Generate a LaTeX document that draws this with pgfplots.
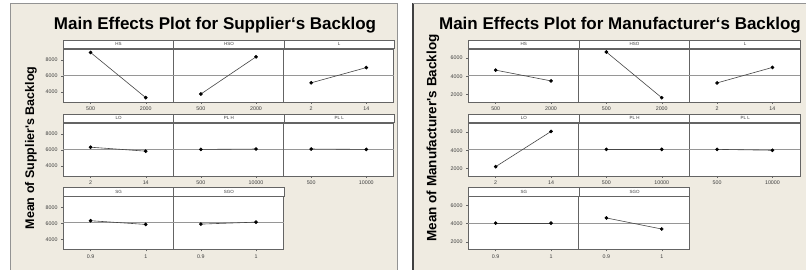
\documentclass[border=0pt]{standalone}
\usepackage{pgfplots}
\pgfplotsset{compat=1.18}
\usepackage{fontspec}
\setmainfont{Liberation Sans}
\definecolor{bg}{RGB}{239,235,225}
\definecolor{frame}{RGB}{100,100,100}
\definecolor{meanc}{RGB}{150,150,150}
\definecolor{effc}{RGB}{70,70,70}
\definecolor{tlab}{RGB}{60,60,60}
\pgfplotsset{
  me/.style={
    scale only axis, anchor=south west,
    height=53pt,
    xmin=-0.5, xmax=1.5, xtick={0,1},
    axis line style={draw=frame, line width=0.9pt},
    tick style={draw=frame, line width=0.4pt},
    tick align=outside, major tick length=2pt,
    tick pos=left,
    xticklabel style={font=\fontsize{5.3}{5.3}\selectfont, text=tlab, yshift=0.5pt},
    yticklabel style={font=\fontsize{5.3}{5.3}\selectfont, text=tlab},
    clip=false,
    axis background/.style={fill=white},
  },
  lp/.style={width=110.3pt, ymin=2700, ymax=9400},
  rp/.style={width=110.7pt, ymin=1150, ymax=7000},
  lfirst/.style={ytick={4000,6000,8000}, yticklabels={4000,6000,8000}},
  rfirst/.style={ytick={2000,4000,6000}, yticklabels={2000,4000,6000}},
  inner/.style={ytick=\empty},
  meanline/.style={draw=meanc, line width=0.8pt, forget plot},
  effect/.style={draw=effc, line width=0.6pt, mark=*, mark size=1.5pt, mark options={fill=black, draw=black}},
}
\tikzset{hdr/.style={draw=frame, line width=0.9pt, fill=white, anchor=south west, inner sep=0pt,
  minimum height=8.5pt, font=\fontsize{4.5}{4.5}\selectfont, text=tlab}}
% #1 x, #2 y, #3 styles, #4 header, #5 xlabels, #6 v1, #7 v2, #8 mean, #9 header width
\newcommand{\mep}[9]{%
\begin{axis}[me,#3,at={(#1pt,#2pt)},xticklabels={#5}]
\addplot[meanline] coordinates {(-0.5,#8) (1.5,#8)};
\addplot[effect] coordinates {(0,#6) (1,#7)};
\node[hdr, minimum width=#9pt] at (rel axis cs:0,1) {#4};
\end{axis}}
\begin{document}
\begin{tikzpicture}[x=1pt,y=1pt]
\path[use as bounding box] (0,0) rectangle (806,270);
% panels
\fill[bg] (10,0) rectangle (397,267);
\draw[frame!70, line width=0.8pt] (10,0) -- (10,267) -- (397,267) -- (397,0);
\fill[bg] (413,0) rectangle (806,267);
\draw[black!75, line width=1.3pt] (413,0) -- (413,267);
\draw[frame!70, line width=0.8pt] (413,267) -- (806,267);
% titles
\node[font=\fontsize{17}{17}\selectfont\bfseries] at (215,245) {Main Effects Plot for Supplier`s Backlog};
\node[font=\fontsize{17}{17}\selectfont\bfseries] at (620,245) {Main Effects Plot for Manufacturer`s Backlog};
\node[font=\fontsize{12.5}{12.5}\selectfont\bfseries, rotate=90] at (31,122) {Mean of Supplier\textquotesingle s Backlog};
\node[font=\fontsize{13.5}{13.5}\selectfont\bfseries, rotate=90] at (433,132) {Mean of Manufacturer\textquotesingle s Backlog};
% left panel
\mep{63}{168}{lp,lfirst}{HS}{500,2000}{8960}{3250}{6090}{110.3}
\mep{173.3}{168}{lp,inner}{HSO}{500,2000}{3710}{8410}{6090}{110.3}
\mep{283.6}{168}{lp,inner}{L}{2,14}{5125}{7050}{6090}{110.3}
\mep{63}{94}{lp,lfirst}{LO}{2,14}{6340}{5840}{6090}{110.3}
\mep{173.3}{94}{lp,inner}{PL H}{500,10000}{6060}{6110}{6090}{110.3}
\mep{283.6}{94}{lp,inner}{PL L}{500,10000}{6110}{6060}{6090}{110.3}
\mep{63}{20.5}{lp,lfirst}{SG}{0.9,1}{6340}{5870}{6090}{110.3}
\mep{173.3}{20.5}{lp,inner}{SGO}{0.9,1}{5910}{6160}{6090}{110.3}
% right panel
\mep{468}{168}{rp,rfirst}{HS}{500,2000}{4667}{3478}{4080}{110.7}
\mep{578.7}{168}{rp,inner}{HSO}{500,2000}{6667}{1622}{4080}{110.7}
\mep{689.4}{168}{rp,inner}{L}{2,14}{3256}{4967}{4080}{110.7}
\mep{468}{94}{rp,rfirst}{LO}{2,14}{2180}{6070}{4080}{110.7}
\mep{578.7}{94}{rp,inner}{PL H}{500,10000}{4090}{4090}{4080}{110.7}
\mep{689.4}{94}{rp,inner}{PL L}{500,10000}{4090}{3990}{4080}{110.7}
\mep{468}{20.5}{rp,rfirst}{SG}{0.9,1}{4060}{4060}{4080}{110.7}
\mep{578.7}{20.5}{rp,inner}{SGO}{0.9,1}{4633}{3411}{4080}{110.7}
\end{tikzpicture}
\end{document}
